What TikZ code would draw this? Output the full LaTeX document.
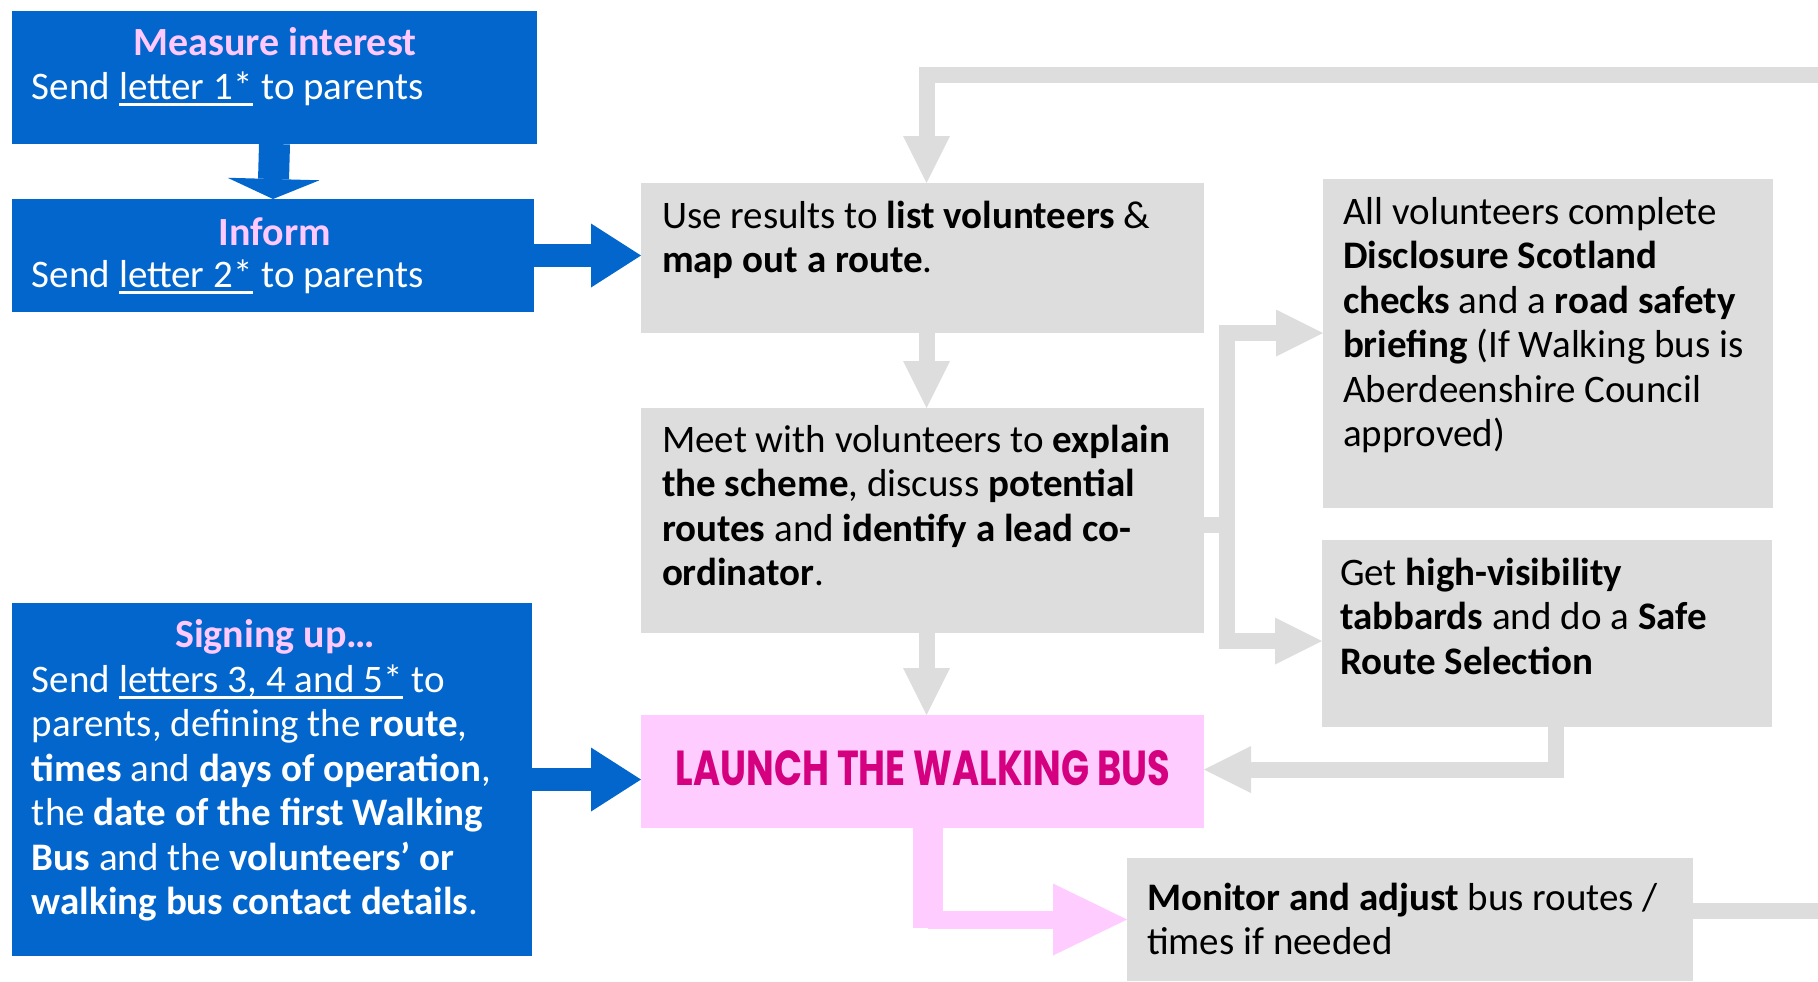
\documentclass[tikz,border=0pt]{standalone}
\usepackage{fontspec}
\setmainfont{Carlito}
\newfontfamily\launchfont{Poppins}
\usetikzlibrary{arrows.meta}
\definecolor{bluebg}{HTML}{0366CC}
\definecolor{pinkhd}{HTML}{FFC8FF}
\definecolor{pinkbg}{HTML}{FFCCFF}
\definecolor{graybg}{HTML}{DDDDDD}
\definecolor{magtext}{HTML}{D4007F}
\newcommand\bodyfont{\fontsize{19.5pt}{22.25pt}\selectfont}
\newcommand\headfont{\fontsize{20pt}{22.25pt}\selectfont}
\newcommand\uln[1]{\setbox0\hbox{#1}\rlap{\rule[-3.3pt]{\wd0}{1.1pt}}\box0\relax}
\tikzset{
  panel/.style={inner sep=0pt, outer sep=0pt, draw=none},
  bluepanel/.style={panel, fill=bluebg},
  graypanel/.style={panel, fill=graybg},
  pinkpanel/.style={panel, fill=pinkbg},
  txt/.style={anchor=base west, inner sep=0pt, outer sep=0pt, font=\bodyfont},
  whitetxt/.style={txt, text=white},
  heading/.style={anchor=base, inner sep=0pt, outer sep=0pt, font=\headfont\bfseries, text=pinkhd},
  bluearrow/.style={draw=bluebg, line width=11.5pt, line join=miter,
     -{Triangle[length=25pt, width=32pt, line width=0pt]}},
  grayarrow/.style={draw=graybg, line width=8pt, line join=miter,
     -{Triangle[length=23.5pt, width=23.5pt, line width=0pt]}},
  grayline/.style={draw=graybg, line width=8pt, line join=miter},
  pinkarrow/.style={draw=pinkbg, line width=9pt, line join=miter,
     -{Triangle[length=37pt, width=36pt, line width=0pt]}},
}
\begin{document}
\begin{tikzpicture}[x=0.5pt, y=-0.5pt]
\useasboundingbox (0,0) rectangle (1818,981);

% ---------- panels ----------
\node[bluepanel, minimum width=262.5pt, minimum height=66.5pt] (measure) at (274.5,77.5) {};
\node[bluepanel, minimum width=261pt, minimum height=56.5pt] (inform) at (273,255.5) {};
\node[bluepanel, minimum width=260pt, minimum height=176.5pt] (signing) at (272,779.5) {};
\node[graypanel, minimum width=281.5pt, minimum height=75pt] (use) at (922.5,258) {};
\node[graypanel, minimum width=281.5pt, minimum height=112.5pt] (meet) at (922.5,520.5) {};
\node[pinkpanel, minimum width=281.5pt, minimum height=56.5pt] (launch) at (922.5,771.5) {};
\node[graypanel, minimum width=225pt, minimum height=164.5pt] (all) at (1548,343.5) {};
\node[graypanel, minimum width=225pt, minimum height=93.5pt] (safe) at (1547,633.5) {};
\node[graypanel, minimum width=283pt, minimum height=61.5pt] (monitor) at (1410,919.5) {};

% ---------- texts ----------
\node[heading] (measurehd) at (275,55) {Measure interest};
\node[whitetxt] (measuretx) at (32,99) {Send \uln{letter 1*} to parents};
\node[heading] (informhd) at (275,245) {Inform};
\node[whitetxt] (informtx) at (32,287) {Send \uln{letter 2*} to parents};
\node[heading] (signinghd) at (275,647) {Signing up…};
\node[whitetxt] (signingtx) at (32,692) {\parbox[t]{255pt}{%
Send \uln{letters 3, 4 and 5*} to\\
parents, defining the \textbf{route},\\
\textbf{times} and \textbf{days of operation},\\
the \textbf{date of the first Walking}\\
\textbf{Bus} and the \textbf{volunteers’ or}\\
\textbf{walking bus contact details}.}};
\node[txt] (usetx) at (662,228) {\parbox[t]{275pt}{%
Use results to \textbf{list volunteers} \&\\
\textbf{map out a route}.}};
\node[txt] (meettx) at (662,452) {\parbox[t]{275pt}{%
Meet with volunteers to \textbf{explain}\\
\textbf{the scheme}, discuss \textbf{potential}\\
\textbf{routes} and \textbf{identify a lead co-}\\
\textbf{ordinator}.}};
\node[txt] (alltx) at (1343,224) {\parbox[t]{220pt}{%
All volunteers complete\\
\textbf{Disclosure Scotland}\\
\textbf{checks} and a \textbf{road safety}\\
\textbf{briefing} (If Walking bus is\\
Aberdeenshire Council\\
approved)}};
\node[txt] (safetx) at (1340,585) {\parbox[t]{220pt}{%
Get \textbf{high-visibility}\\
\textbf{tabbards} and do a \textbf{Safe}\\
\textbf{Route Selection}}};
\node[txt] (monitortx) at (1147,910) {\parbox[t]{275pt}{%
\textbf{Monitor and adjust} bus routes /\\
times if needed}};
\node[anchor=base, inner sep=0pt, text=magtext] (launchtx) at (923,785)
  {\resizebox{247pt}{17.5pt}{\launchfont\bfseries LAUNCH THE WALKING BUS}};

% ---------- connectors ----------
\coordinate (fbin) at (1818,75);
\coordinate (monout) at (1818,911);

\draw[draw=bluebg, line width=15.5pt, -{Triangle[length=10pt, width=46pt, line width=0pt]}]
  (measure.south) -- (inform.north);
\draw[bluearrow] (inform.east) -- (inform.east -| use.west);
\draw[bluearrow] (signing.east) -- (signing.east -| launch.west);

\draw[grayarrow] (fbin) -| ([xshift=2pt]use.north);
\draw[grayarrow] ([xshift=2pt]use.south) -- ([xshift=2pt]meet.north);
\draw[grayarrow] ([xshift=2pt]meet.south) -- ([xshift=2pt]launch.north);

\draw[grayarrow] ([yshift=-2.25pt]meet.east) -- ++(23,0) coordinate (br) |- ([yshift=5.25pt]all.west);
\draw[grayarrow] (br) |- ([yshift=-3.75pt]safe.west);

\draw[grayarrow] ([xshift=4.5pt]safe.south) |- ([yshift=1pt]launch.east);

\draw[draw=pinkbg, line width=15pt] ([xshift=2.75pt]launch.south) -- ++(0,100) coordinate (pk);
\draw[pinkarrow] (pk |- monitor.west) -- (monitor.west);

\draw[grayline] (monitor.east |- monout) -- (monout);
\end{tikzpicture}
\end{document}
